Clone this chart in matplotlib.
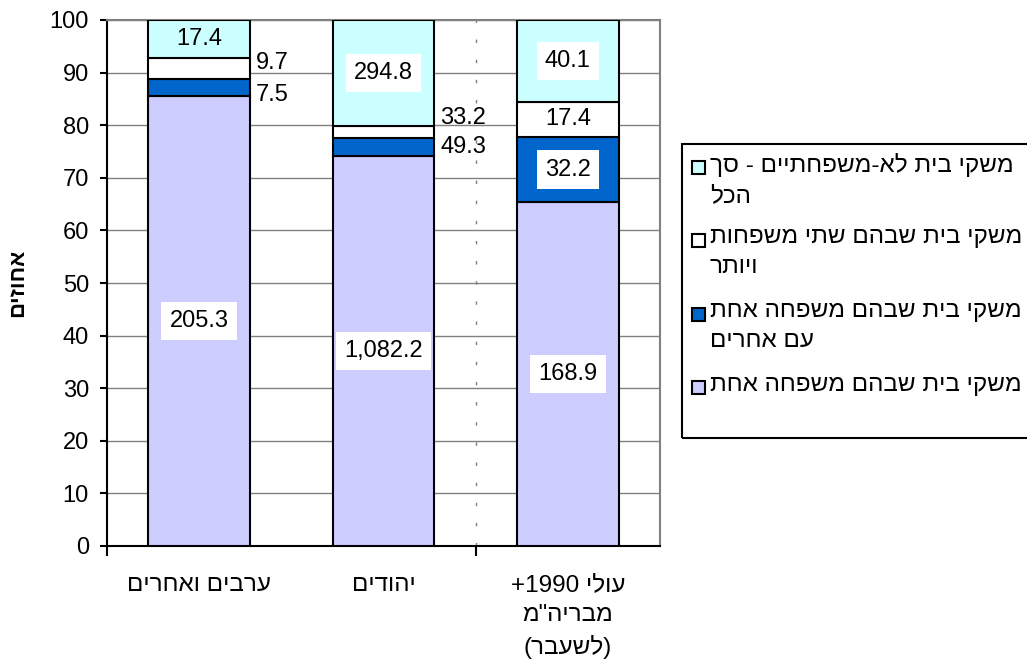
import re
import matplotlib
matplotlib.use('Agg')
import matplotlib.pyplot as plt
from matplotlib.patches import Rectangle
import numpy as np

plt.rcParams['font.family'] = ['Liberation Sans', 'DejaVu Sans']

# data (thousands of households)
categories = ['ערבים ואחרים', 'יהודים', 'עולי 1990+\nמבריה"מ\n(לשעבר)']
series_names = ['משקי בית שבהם משפחה אחת',
                'משקי בית שבהם משפחה אחת\nעם אחרים',
                'משקי בית שבהם שתי משפחות\nויותר',
                'משקי בית לא-משפחתיים - סך\nהכל']
one_family = [205.3, 1082.2, 168.9]
one_family_others = [7.5, 49.3, 32.2]
two_families = [9.7, 33.2, 17.4]
non_family = [17.4, 294.8, 40.1]
yticks = list(range(0, 101, 10))
ylabel = 'אחוזים'

colors = ['#CCCCFF', '#0066CC', '#FFFFFF', '#CCFFFF']
# vertical nudge (points) for the small labels drawn beside the bars
nudges = {(0, 1): -5, (0, 2): 4, (1, 1): 0, (1, 2): 10}

W, H = 1027, 666
FS = 17


def vis(text):
    # matplotlib has no bidi: flip each line, keep numbers in order, mirror brackets
    out = []
    for line in text.split('\n'):
        r = line[::-1]
        r = re.sub(r'[0-9][0-9.,]*', lambda m: m.group(0)[::-1], r)
        r = r.translate(str.maketrans('()', ')('))
        out.append(r)
    return '\n'.join(out)


counts = np.array([one_family, one_family_others, two_families, non_family])
pct = counts / counts.sum(axis=0) * 100
x = np.arange(len(categories))
bw = 0.553

fig = plt.figure(figsize=(W / 100, H / 100), dpi=100)
ax = fig.add_axes([107 / W, 1 - 546 / H, (660 - 107) / W, (546 - 20) / H])

bottom = np.zeros(len(categories))
for i in range(len(series_names)):
    ax.bar(x, pct[i], bw, bottom=bottom, color=colors[i], edgecolor='black',
           linewidth=1.5, zorder=3)
    for j in range(len(categories)):
        lab = f'{counts[i, j]:,.1f}'
        yc = bottom[j] + pct[i, j] / 2
        if pct[i, j] >= 5:
            box = dict(boxstyle='square,pad=0.35', fc='white', ec='none') if pct[i, j] >= 10 else None
            ax.text(x[j], yc, lab, ha='center', va='center', fontsize=FS, bbox=box, zorder=5)
        else:
            ax.annotate(lab, xy=(x[j] + bw / 2, yc), xytext=(4, nudges.get((j, i), 0)),
                        textcoords='offset points', ha='left', va='center',
                        fontsize=FS, zorder=5)
    bottom += pct[i]

ax.set_xlim(-0.5, 2.5)
ax.set_ylim(0, 100)
ax.set_yticks(yticks)
ax.yaxis.grid(True, color='#808080', linewidth=1)
ax.set_axisbelow(True)
ax.axvline(1.5, color='#808080', linewidth=1, linestyle=(0, (2.5, 12)), zorder=1)

for s in ['left', 'bottom']:
    ax.spines[s].set_color('black')
    ax.spines[s].set_linewidth(1.5)
for s in ['top', 'right']:
    ax.spines[s].set_color('#808080')
    ax.spines[s].set_linewidth(1.5)

ax.set_xticks(x)
ax.set_xticklabels([vis(c) for c in categories], fontsize=FS + 0.5, linespacing=1.47)
ax.set_xticks([-0.5, 1.5], minor=True)
ax.tick_params(axis='x', which='major', length=0, pad=20)
ax.tick_params(axis='x', which='minor', length=7, width=1.5, direction='out')
ax.tick_params(axis='y', length=5, width=1.5, pad=8, labelsize=FS)

fig.text(18 / W, 1 - 283 / H, vis(ylabel), rotation=90, fontweight='bold',
         ha='center', va='center', fontsize=FS - 1)

# legend box (drawn by hand so the swatch sits on the first text line)
fig.add_artist(Rectangle((682 / W, 1 - 438 / H), (1045 - 682) / W, (438 - 144) / H,
                         transform=fig.transFigure, fill=False, ec='black', lw=1.5))
for k, i in enumerate(range(len(series_names) - 1, -1, -1)):
    yc = 167 + k * 73.5
    fig.add_artist(Rectangle((692 / W, 1 - (yc + 6.5) / H), 13 / W, 13 / H,
                             transform=fig.transFigure, fc=colors[i], ec='black', lw=1.5))
    fig.text(710 / W, 1 - (yc - 14) / H, vis(series_names[i]), ha='left', va='top',
             fontsize=FS + 0.5, linespacing=1.45)

fig.savefig('out.png', dpi=100)
